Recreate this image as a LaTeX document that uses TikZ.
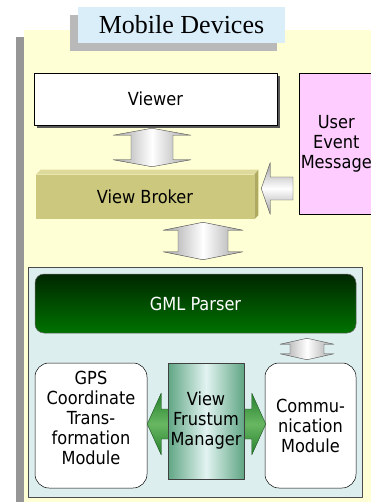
\documentclass[tikz,border=0pt]{standalone}
\usepackage{fontspec}
\setmainfont{DejaVu Sans Condensed}
\newfontfamily\titlefont{Liberation Serif}
\usetikzlibrary{calc,shadows}
\usetikzlibrary{positioning}
\definecolor{bgyellow}{RGB}{255,255,214}
\definecolor{devgray}{RGB}{150,150,150}
\definecolor{titleblue}{RGB}{218,238,250}
\definecolor{msgpink}{RGB}{255,204,255}
\definecolor{panelblue}{RGB}{221,238,238}
\definecolor{brokerfront}{RGB}{204,200,126}
\definecolor{brokertop}{RGB}{222,218,156}
\definecolor{brokerside}{RGB}{176,170,96}
\definecolor{fmedge}{RGB}{96,166,132}
\definecolor{fmmid}{RGB}{226,243,241}
\definecolor{garrow}{RGB}{36,128,44}
\definecolor{garrowmid}{RGB}{104,182,98}
\tikzset{box/.style={draw=black,line width=0.5pt,inner sep=0pt,align=center},
  modbox/.style={box,fill=white,rounded corners=14pt,minimum height=125pt},
  grayarrow/.style={draw=gray!60!black,line width=0.4pt,left color=gray!75,right color=gray!75,middle color=white},
  grayarrowh/.style={grayarrow,top color=gray!75,bottom color=gray!75,middle color=white},
  greenarrow/.style={draw=garrow!60!black,line width=0.4pt,top color=garrow,bottom color=garrow,middle color=garrowmid}}
% vertical block arrow: top, bottom, shaft half width, head half width, head length
\newcommand{\vblock}[5]{\path[grayarrow] let \p1=#1, \p2=#2 in
  (\x1,\y1) -- (\x1+#4,\y1-#5) -- (\x1+#3,\y1-#5) -- (\x1+#3,\y2+#5) -- (\x1+#4,\y2+#5) -- (\x1,\y2)
  -- (\x1-#4,\y2+#5) -- (\x1-#3,\y2+#5) -- (\x1-#3,\y1-#5) -- (\x1-#4,\y1-#5) -- cycle;}

\begin{document}
\begin{tikzpicture}[x=1pt,y=-1pt,line join=round,font=\fontsize{18}{20}\selectfont]
\useasboundingbox (0,0) rectangle (371,502);
% --- device frame
\fill[devgray] (16,37) rectangle (24,502);
\fill[bgyellow] (24,30) rectangle (371,502);
\node[inner sep=0pt,minimum width=207pt,minimum height=36pt,fill=titleblue,
  drop shadow={shadow xshift=-8pt,shadow yshift=-8pt,fill=gray!55,opacity=1}] (title) at (181.5,25)
  {\titlefont\fontsize{26}{28}\selectfont Mobile Devices};
% --- upper part
\node[box,fill=white,minimum width=243pt,minimum height=52pt,
  drop shadow={shadow xshift=3pt,shadow yshift=-3pt,fill=gray!70!black,opacity=1}] (viewer) at (155.5,99) {Viewer};
\node[box,fill=msgpink,anchor=west,text width=74pt,minimum height=141pt] (event) at (299,143.5) {User\\Event\\Message};
\node[box,draw=none,fill=brokerfront,minimum width=218pt,minimum height=44pt] (broker) at (145,197) {View Broker};
\fill[brokertop] (broker.north west) -- ++(5,-5) -- ($(broker.north east)+(4,-5)$) -- (broker.north east) -- cycle;
\fill[brokerside] (broker.north east) -- ++(4,-5) -- ($(broker.south east)+(4,-4)$) -- (broker.south east) -- cycle;
\vblock{($(viewer.south)+(-3.5,3)$)}{($(broker.north)+(7,-8)$)}{21pt}{39pt}{7pt}
\path[grayarrowh] let \p1=($(broker.east)+(7,-8.5)$), \p2=($(event.west)+(-6,0)$) in
  (\x1,\y1) -- (\x1+9pt,\y1+26pt) -- (\x1+9pt,\y1+11.5pt) -- (\x2,\y1+11.5pt) -- (\x2,\y1-11.5pt)
  -- (\x1+9pt,\y1-11.5pt) -- (\x1+9pt,\y1-26pt) -- cycle;
% --- lower part
\node[box,draw=gray!60!black,fill=panelblue,minimum width=334pt,minimum height=230pt] (panel) at (195,382) {};
\vblock{($(broker.south)+(58,3)$)}{($(panel.north)+(8,-7)$)}{25pt}{40pt}{8pt}
\node[box,draw=black!60,rounded corners=9pt,top color=black!85!green,bottom color=green!45!black,
  text=white,minimum width=321pt,minimum height=59pt] (parser) at (195.5,303.5) {GML Parser};
\node[modbox,minimum width=112pt,label={[align=center,yshift=8pt]center:GPS\\Coordinate\\Trans-\\formation\\Module}] (gps) at (91,425.5) {};
\node[modbox,minimum width=91pt] (comm) at (310.5,425.5) {Commu-\\nication\\Module};
\vblock{($(parser.south-|comm.north)+(-3.5,5)$)}{($(comm.north)+(-3.5,-3)$)}{17pt}{27pt}{6pt}
\path[greenarrow] let \p1=($(gps.east)+(0,-1.5)$), \p2=($(comm.west)+(1,-1.5)$) in
  (\x1,\y1) -- (\x1+14pt,\y1+31pt) -- (\x1+14pt,\y1+15pt) -- (\x2-14pt,\y1+15pt) -- (\x2-14pt,\y1+31pt) -- (\x2,\y1)
  -- (\x2-14pt,\y1-31pt) -- (\x2-14pt,\y1-15pt) -- (\x1+14pt,\y1-15pt) -- (\x1+14pt,\y1-31pt) -- cycle;
\node[box,draw=gray!50!black,left color=fmedge,right color=fmedge,middle color=fmmid,
  minimum width=76pt,minimum height=116pt] (frustum) at (206,421) {View\\Frustum\\Manager};
\end{tikzpicture}
\end{document}
